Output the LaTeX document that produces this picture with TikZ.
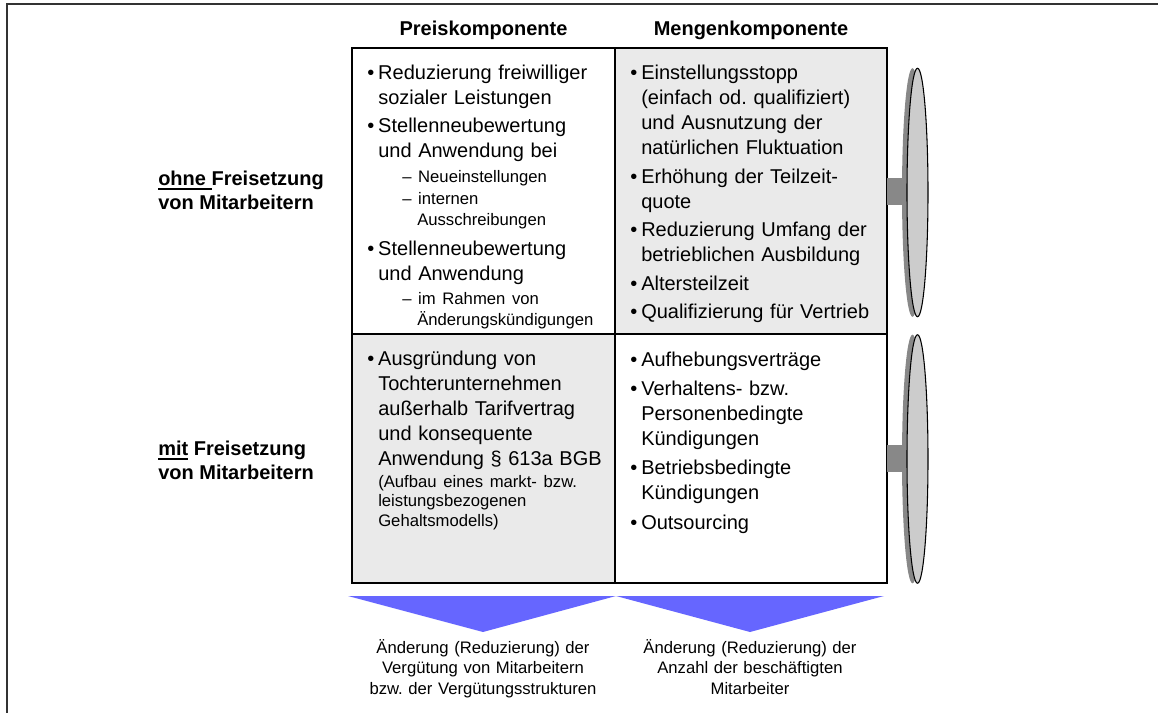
\documentclass[tikz,border=0pt]{standalone}
\usepackage{fontspec}
\setmainfont{Liberation Sans}
\frenchspacing
\definecolor{zellgrau}{RGB}{234,234,234}
\definecolor{pfeilblau}{RGB}{102,102,255}
\definecolor{scheibehell}{RGB}{204,204,204}
\definecolor{scheibedunkel}{RGB}{136,136,136}
% Punkte und Unterpunkte in den Zellen
\newcommand{\pkt}[2][2.6pt]{\par\vskip#1\noindent\hangindent=8.25pt\hangafter=1\makebox[8.25pt][l]{\textbullet}#2\par}
\newcommand{\unter}[2][2.6pt]{\par\vskip#1{\fontsize{12.5}{15.75}\selectfont\noindent\hangindent=37.5pt\hangafter=1\hspace*{26.25pt}–\ #2\par}}
\newcommand{\zusatz}[1]{\par\vskip1.5pt{\fontsize{12.5}{14.6}\selectfont\noindent\hangindent=8.25pt\hangafter=0 #1\par}}
\newcommand{\unterstr}[1]{\setbox0\hbox{#1}\rlap{\rule[-3.3pt]{\wd0}{1.3pt}}\box0\relax}
\begin{document}
\begin{tikzpicture}[x=0.75pt,y=-0.75pt,
    kopf/.style={font=\fontsize{15}{18}\selectfont\bfseries},
    zeile/.style={font=\fontsize{15}{18}\selectfont\bfseries,align=left,anchor=west,inner sep=0pt},
    liste/.style={font=\fontsize{15}{18.75}\selectfont,text width=195pt,align=left,anchor=north west,inner sep=0pt},
    wirkung/.style={font=\fontsize{12.5}{15.3}\selectfont,text width=240pt,align=center,anchor=north,inner sep=0pt},
    gitter/.style={line width=1.5pt}]
    \useasboundingbox(0,0)rectangle(1158,713);
    \draw[black!80,line width=1.1pt](7,4)rectangle(1170,725);
    % Tabelle
    \fill[zellgrau](615,48)rectangle(887,334);
    \fill[zellgrau](352,334)rectangle(615,583);
    \draw[gitter](352,48)rectangle(887,583);
    \draw[gitter](615,48)--(615,583);
    \draw[gitter](352,334)--(887,334);
    \node[kopf](preis)at(483.5,30){Preiskomponente};
    \node[kopf](menge)at(751,30){Mengenkomponente};
    \node[zeile](ohne)at(158,190){\unterstr{ohne\ }Freisetzung\\von Mitarbeitern};
    \node[zeile](mit)at(158,460){\unterstr{mit} Freisetzung\\von Mitarbeitern};
    \node[liste](pa)at(367,54){%
        \pkt[0pt]{Reduzierung freiwilliger\newline sozialer Leistungen}
        \pkt{Stellenneubewertung\newline und Anwendung bei}
        \unter{Neueinstellungen}
        \unter[0.75pt]{internen\newline Ausschreibungen}
        \pkt[4pt]{Stellenneubewertung\newline und Anwendung}
        \unter{im Rahmen von\newline Änderungskündigungen}};
    \node[liste](ma)at(630,54.5){%
        \pkt[0pt]{Einstellungsstopp\newline (einfach od. qualifiziert)\newline und Ausnutzung der\newline natürlichen Fluktuation}
        \pkt{Erhöhung der Teilzeit-\newline quote}
        \pkt{Reduzierung Umfang der\newline betrieblichen Ausbildung}
        \pkt{Altersteilzeit}
        \pkt{Qualifizierung für Vertrieb}};
    \node[liste](pb)at(367,340.5){%
        \pkt[0pt]{Ausgründung von\newline Tochterunternehmen\newline außerhalb Tarifvertrag\newline und konsequente\newline Anwendung § 613a BGB}
        \zusatz{(Aufbau eines markt- bzw.\newline leistungsbezogenen\newline Gehaltsmodells)}};
    \node[liste](mb)at(630,341){%
        \pkt[0pt]{Aufhebungsverträge}
        \pkt[3.2pt]{Verhaltens- bzw.\newline Personenbedingte\newline Kündigungen}
        \pkt[3.2pt]{Betriebsbedingte\newline Kündigungen}
        \pkt[3.2pt]{Outsourcing}};
    % Scheiben rechts
    \foreach \m in {192.5,459}{
        \fill[scheibedunkel](887,\m-14)rectangle(908,\m+13);
        \fill[scheibedunkel](912.5,\m)ellipse[x radius=7.875pt,y radius=93.2pt];
        \filldraw[fill=scheibehell,draw=black,line width=0.8pt](917.5,\m)ellipse[x radius=7.875pt,y radius=93.2pt];
    }
    % Pfeile nach unten
    \fill[pfeilblau](348,596)--(616,596)--(483,632)--cycle;
    \fill[pfeilblau](616,596)--(884,596)--(750,632)--cycle;
    \node[wirkung](verg)at(483,639){Änderung (Reduzierung) der\\Vergütung von Mitarbeitern\\bzw. der Vergütungsstrukturen};
    \node[wirkung](anz)at(750,639){Änderung (Reduzierung) der\\Anzahl der beschäftigten\\Mitarbeiter};
\end{tikzpicture}
\end{document}
